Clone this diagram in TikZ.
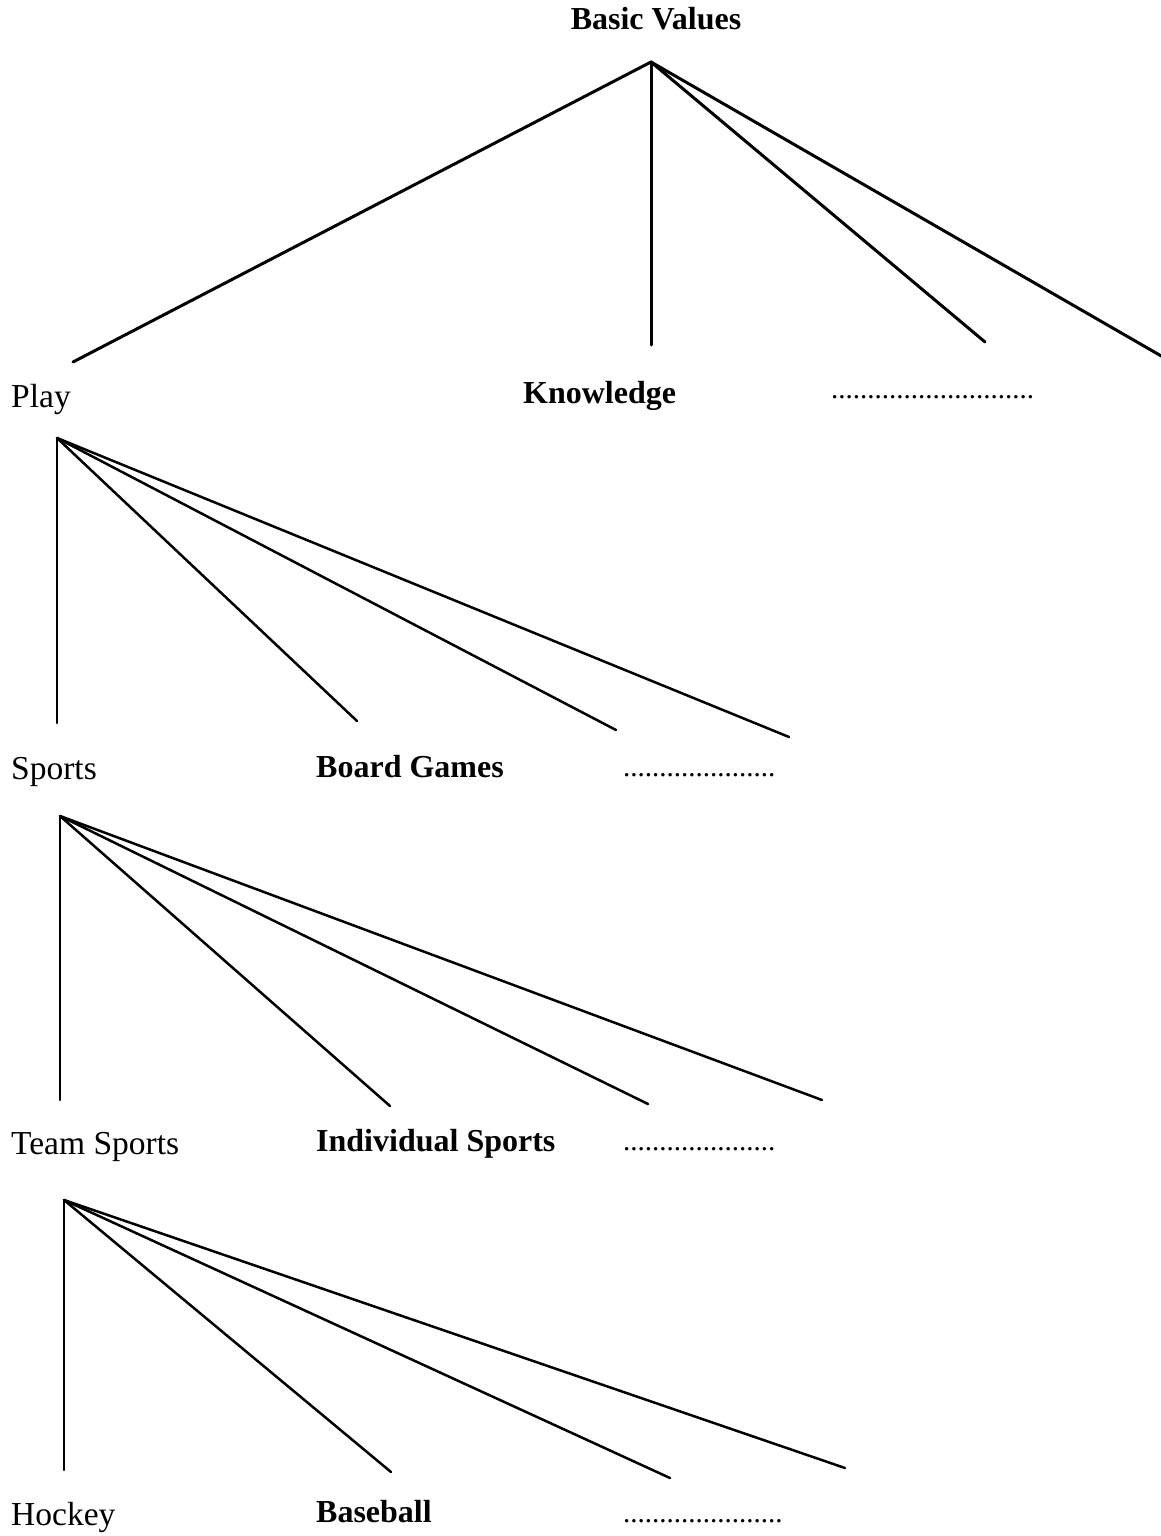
\documentclass[tikz,border=0pt]{standalone}
\usepackage{fontspec}
\setmainfont{Liberation Serif}
\begin{document}
\begin{tikzpicture}[x=1pt,y=-1pt,
  lbl/.style={inner sep=0pt, anchor=base west, font=\fontsize{33.5}{38}\selectfont},
  blbl/.style={inner sep=0pt, anchor=base west, font=\fontsize{32}{38}\selectfont\bfseries},
  dots/.style={inner sep=0pt, anchor=base west, font=\fontsize{29}{36}\selectfont},
  edge/.style={line width=2.5pt, line cap=round, line join=round},
  thickedge/.style={line width=3pt, line cap=round, line join=round}]
\useasboundingbox (0,0) rectangle (1160,1536);

% level 0
\node[blbl, anchor=base] (basic) at (656,30) {Basic Values};
\coordinate (a0) at (651,62);
\coordinate (a0l) at (73,362);
\coordinate (a0m) at (651,345);
\coordinate (a0r) at (985,342);
\coordinate (a0rr) at (1163,357);
\draw[thickedge] (a0) -- (a0l);
\draw[thickedge] (a0) -- (a0m);
\draw[thickedge] (a0) -- (a0r);
\draw[thickedge] (a0) -- (a0rr);

% level 1
\node[lbl] (play) at (11,407) {Play};
\node[blbl] (know) at (523,403) {Knowledge};
\node[dots] (dots1) at (831,398) {............................};

\coordinate (a1) at (57,438);
\coordinate (a1a) at (57,723);
\coordinate (a1b) at (357,721);
\coordinate (a1c) at (616,730);
\coordinate (a1d) at (789,737);
\draw[edge] (a1) -- (a1a);
\draw[edge] (a1) -- (a1b);
\draw[edge] (a1) -- (a1c);
\draw[edge] (a1) -- (a1d);

% level 2
\node[lbl] (sports) at (11,779) {Sports};
\node[blbl] (board) at (316,777) {Board Games};
\node[dots] (dots2) at (623,776) {.....................};

\coordinate (a2) at (60,816);
\coordinate (a2a) at (60,1100);
\coordinate (a2b) at (390,1106);
\coordinate (a2c) at (648,1104);
\coordinate (a2d) at (822,1100);
\draw[edge] (a2) -- (a2a);
\draw[edge] (a2) -- (a2b);
\draw[edge] (a2) -- (a2c);
\draw[edge] (a2) -- (a2d);

% level 3
\node[lbl] (team) at (11,1154) {Team Sports};
\node[blbl] (indiv) at (316,1151) {Individual Sports};
\node[dots] (dots3) at (623,1150) {.....................};

\coordinate (a3) at (64,1200);
\coordinate (a3a) at (64,1470);
\coordinate (a3b) at (391,1472);
\coordinate (a3c) at (670,1478);
\coordinate (a3d) at (845,1468);
\draw[edge] (a3) -- (a3a);
\draw[edge] (a3) -- (a3b);
\draw[edge] (a3) -- (a3c);
\draw[edge] (a3) -- (a3d);

% level 4
\node[lbl] (hockey) at (11,1525) {Hockey};
\node[blbl] (baseball) at (316,1522) {Baseball};
\node[dots] (dots4) at (623,1522) {......................};
\end{tikzpicture}
\end{document}
